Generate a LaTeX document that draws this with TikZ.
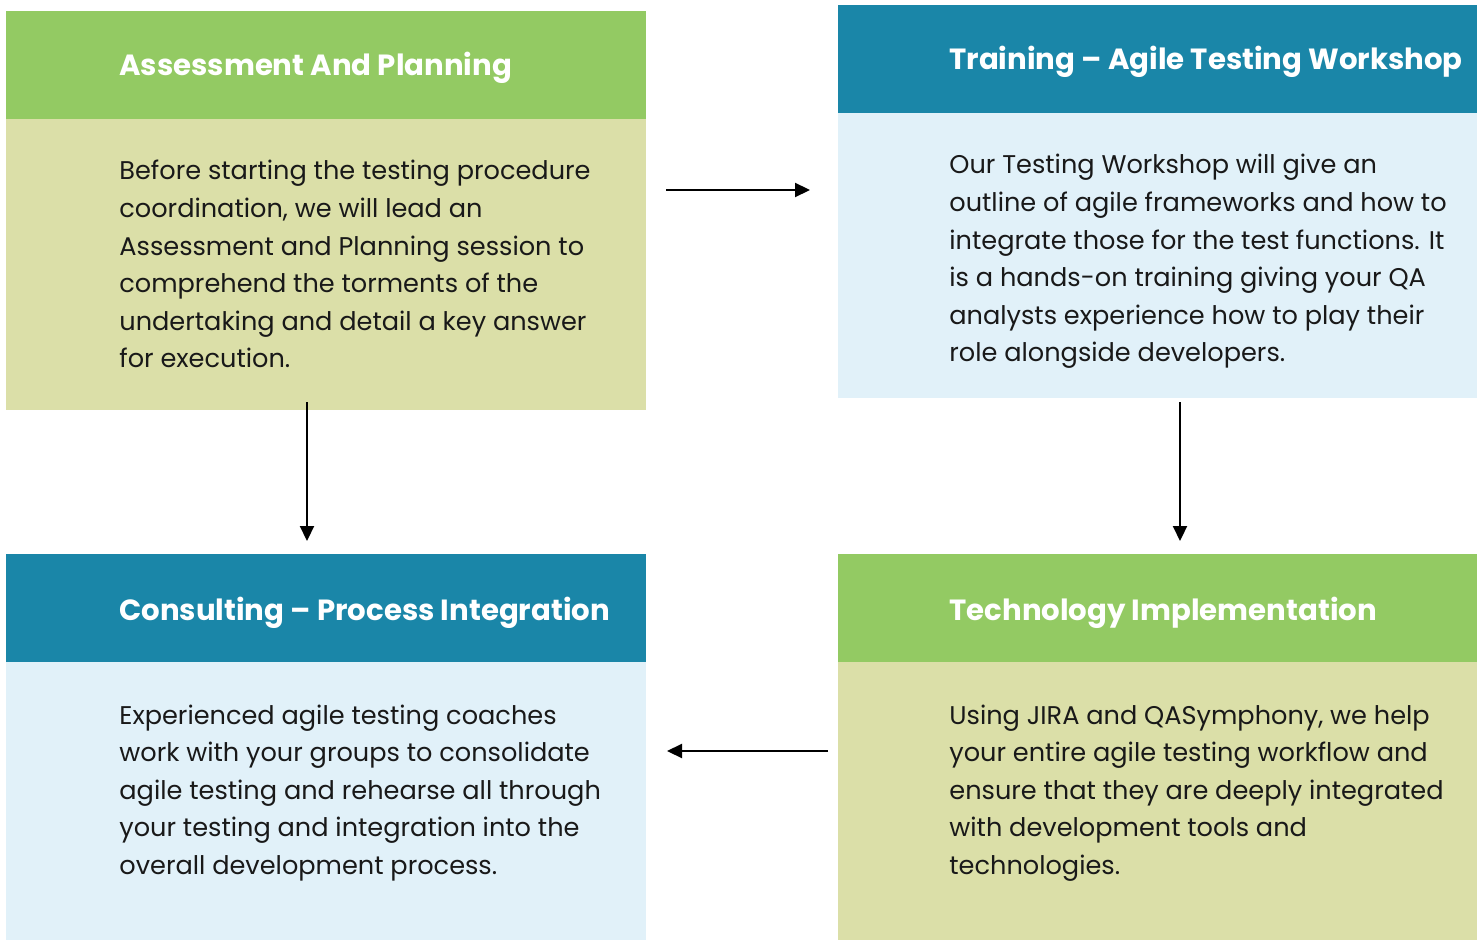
\documentclass[tikz,border=0pt]{standalone}
\usepackage{fontspec}
\setmainfont{Poppins}
\usetikzlibrary{arrows.meta,calc}
\definecolor{hgreen}{HTML}{93CA63}
\definecolor{bolive}{HTML}{DBDFA8}
\definecolor{hblue}{HTML}{1A86A8}
\definecolor{blight}{HTML}{E1F1F9}
\tikzset{
  boxbase/.style={rectangle, inner sep=0pt, outer sep=0pt, anchor=north west, minimum width=320pt},
  headg/.style={boxbase, fill=hgreen, minimum height=54pt},
  headb/.style={boxbase, fill=hblue, minimum height=54pt},
  bodyo/.style={boxbase, fill=bolive},
  bodyl/.style={boxbase, fill=blight},
  ttl/.style={anchor=base west, inner sep=0pt, text=white, font=\fontsize{14.6}{18}\selectfont\bfseries},
  txt/.style={anchor=base west, inner sep=0pt, text=black!90, font=\fontsize{12.8}{18.8}\selectfont},
  arr/.style={line width=1.1pt, -{Triangle[length=7.5pt, width=7pt]}}
}
\newcommand{\bodytext}[1]{\parbox[t]{260pt}{\raggedright #1}}
\begin{document}
\begin{tikzpicture}[x=0.5pt, y=-0.5pt]
\useasboundingbox (0,0) rectangle (1483,941);
% top left
\node[headg, minimum height=54pt] (tlhead) at (6,11) {};
\node[bodyo, minimum height=145.5pt] (tlbody) at (6,119) {};
\node[ttl] (tlttl) at (119,76) {Assessment And Planning};
\node[txt] (tltxt) at (119,180) {\bodytext{Before starting the testing procedure\\coordination, we will lead an\\Assessment and Planning session to\\comprehend the torments of the\\undertaking and detail a key answer\\for execution.}};
% top right
\node[headb, minimum width=319.5pt] (trhead) at (838,5) {};
\node[bodyl, minimum width=319.5pt, minimum height=142.5pt] (trbody) at (838,113) {};
\node[ttl] (trttl) at (949,70) {Training -- Agile Testing Workshop};
\node[txt] (trtxt) at (949,174) {\bodytext{Our Testing Workshop will give an\\outline of agile frameworks and how to\\integrate those for the test functions. It\\is a hands-on training giving your QA\\analysts experience how to play their\\role alongside developers.}};
% bottom left
\node[headb] (blhead) at (6,554) {};
\node[bodyl, minimum height=139pt] (blbody) at (6,662) {};
\node[ttl] (blttl) at (119,620) {Consulting -- Process Integration};
\node[txt] (bltxt) at (119,724) {\bodytext{Experienced agile testing coaches\\work with your groups to consolidate\\agile testing and rehearse all through\\your testing and integration into the\\overall development process.}};
% bottom right
\node[headg, minimum width=319.5pt] (brhead) at (838,554) {};
\node[bodyo, minimum width=319.5pt, minimum height=139pt] (brbody) at (838,662) {};
\node[ttl] (brttl) at (949,620) {Technology Implementation};
\node[txt] (brtxt) at (949,724) {\bodytext{Using JIRA and QASymphony, we help\\your entire agile testing workflow and\\ensure that they are deeply integrated\\with development tools and\\technologies.}};
% arrows
\draw[arr] ($(tlbody.north east)+(20,71)$) -- ($(trbody.north west)+(-28,77)$);
\draw[arr] ($(trbody.south west)+(342,4)$) -- ($(brhead.north west)+(342,-13)$);
\draw[arr] ($(brbody.north west)+(-10,89)$) -- ($(blbody.north east)+(21,89)$);
\draw[arr] ($(tlbody.south west)+(301,-8)$) -- ($(blhead.north west)+(301,-13)$);
\end{tikzpicture}
\end{document}
